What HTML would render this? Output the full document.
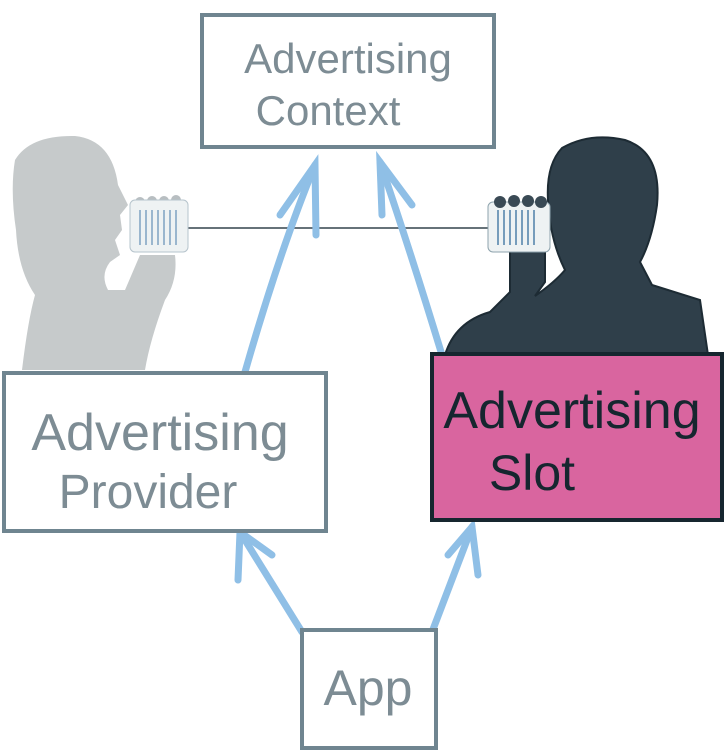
<!DOCTYPE html>
<html><head><meta charset="utf-8"><style>
html,body{margin:0;padding:0;background:#fff}
svg{display:block}
text{font-family:"Liberation Sans",sans-serif;}
</style></head><body>
<svg width="728" height="754" viewBox="0 0 728 754" xmlns="http://www.w3.org/2000/svg">
<!-- left silhouette -->
<path d="M15,160 Q30,135 75,136 Q112,140 118,185 L128,205 L120,215 L122,230 L115,240 L120,255 L110,262 Q100,275 108,290 L125,290 L140,255 L175,255 Q178,280 165,300 Q150,340 145,370 L22,370 Q28,320 35,295 Q18,270 16,230 Q10,190 15,160 Z" fill="#c6cacb"/>
<!-- right silhouette -->
<path d="M562,148 Q590,132 625,140 Q662,152 657,205 Q652,240 640,262 L652,285 L700,300 L708,355 L445,355 Q455,322 490,312 L510,292 L510,250 L545,250 L545,282 L535,296 Q555,282 565,270 Q550,240 548,200 Q546,165 562,148 Z" fill="#2f3f4a" stroke="#1d2b34" stroke-width="2"/>
<!-- string -->
<line x1="185" y1="228" x2="490" y2="228" stroke="#33434d" stroke-width="1.5"/>
<!-- left can -->
<g fill="#b8bec1"><circle cx="140" cy="202" r="5"/><circle cx="152" cy="201" r="5"/><circle cx="164" cy="201" r="5"/><circle cx="176" cy="200" r="5"/></g>
<rect x="130" y="200" width="58" height="52" rx="5" fill="#eef2f3" stroke="#b6c4cc"/>
<g stroke="#7ea3c2" stroke-width="1.5"><line x1="140" y1="210" x2="140" y2="245"/><line x1="146" y1="210" x2="146" y2="245"/><line x1="152" y1="210" x2="152" y2="245"/><line x1="158" y1="210" x2="158" y2="245"/><line x1="164" y1="210" x2="164" y2="245"/><line x1="170" y1="210" x2="170" y2="245"/><line x1="176" y1="210" x2="176" y2="245"/></g>
<!-- right can -->
<rect x="488" y="202" width="62" height="50" rx="5" fill="#eef2f3" stroke="#8ea3ad"/>
<g stroke="#4f7fa8" stroke-width="1.5"><line x1="498" y1="210" x2="498" y2="245"/><line x1="504" y1="210" x2="504" y2="245"/><line x1="510" y1="210" x2="510" y2="245"/><line x1="516" y1="210" x2="516" y2="245"/><line x1="522" y1="210" x2="522" y2="245"/><line x1="528" y1="210" x2="528" y2="245"/><line x1="534" y1="210" x2="534" y2="245"/></g>
<g fill="#3a4a55"><circle cx="500" cy="202" r="6"/><circle cx="514" cy="201" r="6"/><circle cx="528" cy="201" r="6"/><circle cx="541" cy="202" r="6"/></g>
<!-- arrows -->
<g stroke="#8fbfe6" stroke-width="7" fill="none" stroke-linecap="round">
<path d="M245,372 Q280,250 315,165"/><path d="M280,215 L315,165 L316,235"/>
<path d="M442,355 Q410,250 380,162"/><path d="M382,215 L380,162 L412,205"/>
<path d="M302,632 L240,532"/><path d="M238,580 L240,532 L272,555"/>
<path d="M432,632 L472,527"/><path d="M448,555 L472,527 L478,575"/>
</g>
<!-- boxes -->
<rect x="202" y="15" width="292" height="132" fill="#fff" stroke="#6f8590" stroke-width="4"/>
<text x="348" y="73" text-anchor="middle" font-size="42" fill="#7d8c94">Advertising</text>
<text x="328" y="125" text-anchor="middle" font-size="42" fill="#7d8c94">Context</text>
<rect x="4" y="373" width="322" height="158" fill="#fff" stroke="#6f8590" stroke-width="4"/>
<text x="160" y="450" text-anchor="middle" font-size="52" fill="#7d8c94">Advertising</text>
<text x="148" y="508" text-anchor="middle" font-size="48" fill="#7d8c94">Provider</text>
<rect x="432" y="354" width="290" height="166" fill="#d9659f" stroke="#16262f" stroke-width="4"/>
<text x="572" y="428" text-anchor="middle" font-size="52" fill="#16262f">Advertising</text>
<text x="532" y="490" text-anchor="middle" font-size="50" fill="#16262f">Slot</text>
<rect x="302" y="630" width="134" height="118" fill="#fff" stroke="#6f8590" stroke-width="4"/>
<text x="368" y="705" text-anchor="middle" font-size="50" fill="#7d8c94">App</text>
</svg>
</body></html>
